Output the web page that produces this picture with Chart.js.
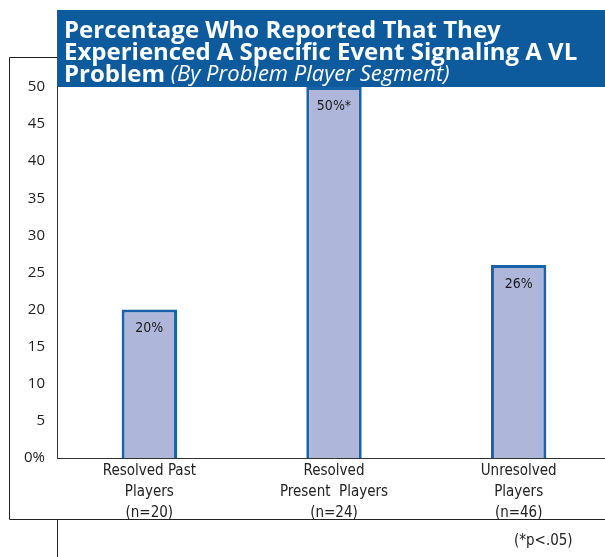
<!DOCTYPE html>
<html>
<head>
<meta charset="utf-8">
<script src="https://cdn.jsdelivr.net/npm/chart.js@4"></script>
<style>
  html, body { margin: 0; padding: 0; background: #fff; overflow: hidden; }
  #wrap { width: 605px; height: 557px; position: relative; overflow: hidden; }
</style>
</head>
<body>
<div id="wrap"><canvas id="barChart" width="611" height="557"></canvas></div>
<script>
// data
const categories = [
  ['Resolved Past', 'Players', '(n=20)'],
  ['Resolved', 'Present  Players', '(n=24)'],
  ['Unresolved', 'Players', '(n=46)']
];
const percentages = [20, 50, 26];
const valueLabels = ['20%', '50%*', '26%'];
const yTicks = ['0%', '5', '10', '15', '20', '25', '30', '35', '40', '45', '50'];

const titleLines = [
  'Percentage Who Reported That They',
  'Experienced A Specific Event Signaling A VL'
];
const titleLast = 'Problem';
const titleSub = ' (By Problem Player Segment)';
const footNote = '(*p<.05)';

const BLUE = '#0d5b9d';
const NARROW = '"Liberation Sans Narrow", "DejaVu Sans Condensed", "Noto Sans", sans-serif';

// frame, title box, value labels and note
const decorations = {
  id: 'decorations',
  beforeDraw(chart) {
    const ctx = chart.ctx;
    const a = chart.chartArea;
    ctx.save();
    ctx.strokeStyle = '#222';
    ctx.lineWidth = 1;
    ctx.beginPath();
    ctx.moveTo(9.5, 519.5); ctx.lineTo(9.5, 57.5); ctx.lineTo(a.left, 57.5);
    ctx.moveTo(9.5, 519.5); ctx.lineTo(611, 519.5);
    ctx.moveTo(a.left + 0.5, 519.5); ctx.lineTo(a.left + 0.5, 557);
    ctx.stroke();

    // title box
    ctx.fillStyle = BLUE;
    ctx.fillRect(a.left, 10, 611 - a.left, a.top - 10);
    ctx.fillStyle = '#fff';
    ctx.textBaseline = 'middle';
    ctx.textAlign = 'left';
    ctx.font = 'bold 24px "Open Sans", sans-serif';
    ctx.fillText(titleLines[0], 64, 31);
    ctx.fillText(titleLines[1], 64, 53);
    ctx.fillText(titleLast, 64, 75);
    const w = ctx.measureText(titleLast).width;
    ctx.font = 'italic 22px "Open Sans", sans-serif';
    ctx.fillText(titleSub, 64 + w, 75);

    ctx.fillStyle = '#222';
    ctx.font = '15px ' + NARROW;
    ctx.fillText(footNote, 514, 541);
    ctx.restore();
  },
  afterDatasetsDraw(chart) {
    const ctx = chart.ctx;
    const meta = chart.getDatasetMeta(0);
    ctx.save();
    ctx.fillStyle = '#1a1a1a';
    ctx.font = '14px ' + NARROW;
    ctx.textAlign = 'center';
    ctx.textBaseline = 'middle';
    meta.data.forEach((bar, i) => {
      ctx.fillText(valueLabels[i], bar.x, bar.y + 19);
    });
    ctx.restore();
  }
};

new Chart(document.getElementById('barChart').getContext('2d'), {
  type: 'bar',
  data: {
    labels: categories,
    datasets: [{
      data: percentages,
      backgroundColor: '#aeb7d9',
      borderColor: '#1762a8',
      borderWidth: 3,
      borderSkipped: 'bottom',
      categoryPercentage: 1,
      barPercentage: 0.3
    }]
  },
  options: {
    responsive: false,
    animation: false,
    layout: { padding: { top: 87, left: 0, right: 0, bottom: 0 } },
    plugins: { legend: { display: false }, tooltip: { enabled: false } },
    scales: {
      x: {
        grid: { display: false, drawTicks: false },
        border: { display: true, color: '#333', width: 1 },
        afterFit(s) { s.height = 99; },
        ticks: {
          color: '#222',
          padding: 3,
          maxRotation: 0,
          font: { family: NARROW, size: 15, lineHeight: 1.4 }
        }
      },
      y: {
        min: 0,
        max: 50,
        grid: { display: false, drawTicks: false },
        border: { display: true, color: '#333', width: 1 },
        afterFit(s) { s.width = 57; },
        ticks: {
          stepSize: 5,
          padding: 12,
          color: '#222',
          font: { family: '"Open Sans", sans-serif', size: 15 },
          callback: (v, i) => yTicks[i]
        }
      }
    }
  },
  plugins: [decorations]
});
</script>
</body>
</html>
